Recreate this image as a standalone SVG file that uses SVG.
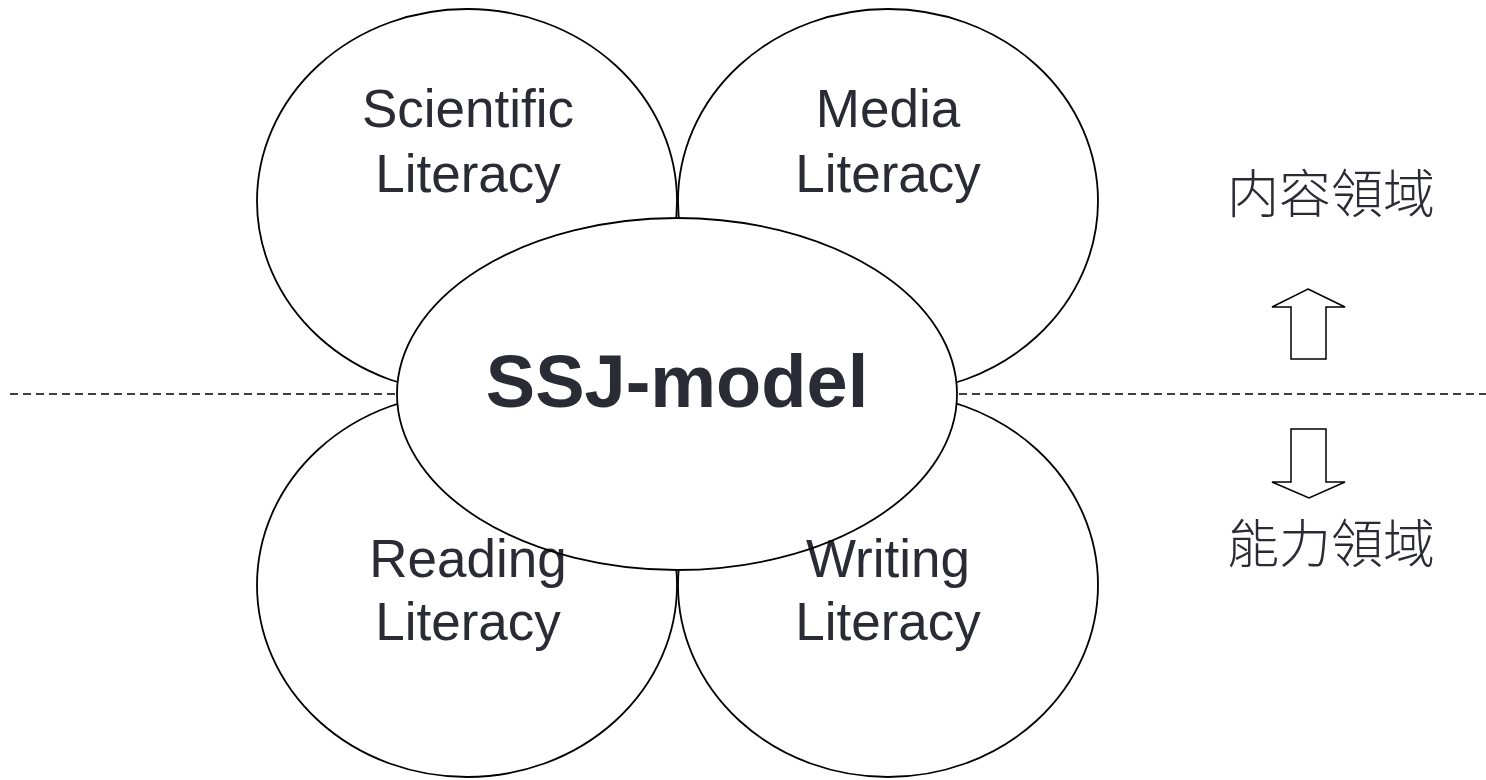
<svg xmlns="http://www.w3.org/2000/svg" width="1486" height="780" viewBox="0 0 1486 780">
<style>
.oval{fill:#ffffff;stroke:#000000;stroke-width:1.8}
.lbl{font-family:"Liberation Sans",Arial,sans-serif;font-size:53px;fill:#2b2b36;text-anchor:middle}
.big{font-family:"Liberation Sans",Arial,sans-serif;font-size:74px;font-weight:bold;fill:#2b2b36;text-anchor:middle}
.cjk{font-family:"Noto Sans CJK TC","Noto Sans CJK SC",sans-serif;font-size:52px;font-weight:300;fill:#2b2b36;text-anchor:middle}
.arr{fill:#ffffff;stroke:#000000;stroke-width:1.5}
</style>
<rect width="1486" height="780" fill="#ffffff"/>
<g id="scientific">
<ellipse class="oval" cx="467" cy="201" rx="210" ry="192"/>
<text class="lbl" x="468" y="127">Scientific</text>
<text class="lbl" x="468" y="192">Literacy</text>
</g>
<g id="media">
<ellipse class="oval" cx="888" cy="201" rx="210" ry="192"/>
<text class="lbl" x="888" y="127">Media</text>
<text class="lbl" x="888" y="192">Literacy</text>
</g>
<g id="reading">
<ellipse class="oval" cx="467" cy="585" rx="210" ry="192"/>
</g>
<g id="writing">
<ellipse class="oval" cx="888" cy="585" rx="210" ry="192"/>
</g>
<g id="connectors">
<line x1="10" y1="394" x2="1486" y2="394" stroke="#000000" stroke-width="1.3" stroke-dasharray="8,5"/>
<polygon class="arr" points="1308,289 1345,307 1326,307 1326,359 1291,359 1291,307 1272,307"/>
<polygon class="arr" points="1291,429 1326,429 1326,482 1345,482 1309,498 1272,482 1291,482"/>
</g>
<g id="ssj">
<ellipse cx="677" cy="394" rx="280" ry="176" fill="#ffffff"/>
<text class="big" x="677" y="407">SSJ-model</text>
</g>
<g id="reading-text">
<text class="lbl" x="468" y="577">Reading</text>
<text class="lbl" x="468" y="640">Literacy</text>
</g>
<g id="writing-text">
<text class="lbl" x="888" y="577">Writing</text>
<text class="lbl" x="888" y="640">Literacy</text>
</g>
<ellipse cx="677" cy="394" rx="280" ry="176" fill="none" stroke="#000000" stroke-width="1.8"/>
<g id="content-domain">
<text class="cjk" x="1331" y="213">内容領域</text>
</g>
<g id="ability-domain">
<text class="cjk" x="1331" y="563">能力領域</text>
</g>
</svg>
